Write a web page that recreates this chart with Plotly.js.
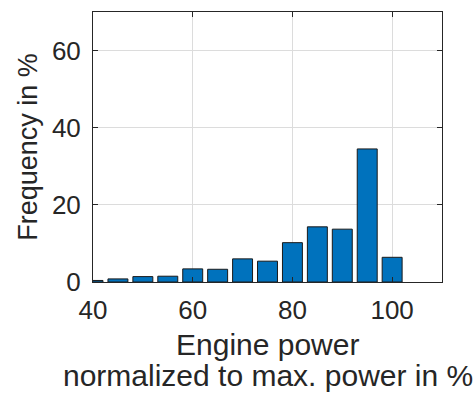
<!DOCTYPE html>
<html>
<head>
<meta charset="utf-8">
<script src="https://cdn.plot.ly/plotly-3.0.1.min.js"></script>
<style>html,body{margin:0;padding:0;background:#fff;}#chart{width:474px;height:397px;}</style>
</head>
<body>
<div id="chart"></div>
<script>
const binCenters = [40, 45, 50, 55, 60, 65, 70, 75, 80, 85, 90, 95, 100];
const frequency = [0.4, 0.8, 1.4, 1.5, 3.4, 3.3, 6.0, 5.4, 10.2, 14.3, 13.7, 34.5, 6.4];
const xTicks = [40, 60, 80, 100];
const yTicks = [0, 20, 40, 60];
const xTitleLine1 = 'Engine power';
const xTitleLine2 = 'normalized to max. power in %';
const yTitle = 'Frequency in %';

const axisColor = '#262626';
const fontFam = 'Liberation Sans, Arial, sans-serif';

const trace = {
  type: 'bar',
  x: binCenters,
  y: frequency,
  width: 4,
  marker: {color: '#0072BD', line: {color: '#1a1a1a', width: 1}},
  hoverinfo: 'skip'
};

const layout = {
  width: 474, height: 397,
  margin: {l: 93, r: 32, t: 12, b: 115},
  paper_bgcolor: '#fff', plot_bgcolor: '#fff',
  showlegend: false,
  font: {family: fontFam, size: 26, color: axisColor},
  xaxis: {
    range: [40, 110], tickvals: xTicks, ticktext: xTicks.map(String),
    ticks: 'inside', ticklen: 5, tickcolor: axisColor,
    showline: true, linecolor: axisColor, linewidth: 1, mirror: 'ticks',
    showgrid: true, gridcolor: '#dcdcdc', gridwidth: 1, zeroline: false,
    tickfont: {size: 26, color: axisColor}, ticklabelstandoff: 5
  },
  yaxis: {
    range: [0, 70], tickvals: yTicks, ticktext: yTicks.map(String),
    ticks: 'inside', ticklen: 5, tickcolor: axisColor,
    showline: true, linecolor: axisColor, linewidth: 1, mirror: 'ticks',
    showgrid: true, gridcolor: '#dcdcdc', gridwidth: 1, zeroline: false,
    tickfont: {size: 26, color: axisColor}, ticklabelstandoff: 6,
    title: {text: yTitle, font: {size: 27, color: axisColor}, standoff: 6}
  },
  annotations: [
    {text: xTitleLine1, xref: 'paper', yref: 'paper', x: 0.5, y: 0,
     xanchor: 'center', yanchor: 'top', yshift: -44, showarrow: false,
     font: {size: 30, color: axisColor}},
    {text: xTitleLine2, xref: 'paper', yref: 'paper', x: 0.5, y: 0,
     xanchor: 'center', yanchor: 'top', yshift: -75, showarrow: false,
     font: {size: 30, color: axisColor}}
  ]
};

Plotly.newPlot('chart', [trace], layout, {staticPlot: true, displayModeBar: false});
</script>
</body>
</html>
